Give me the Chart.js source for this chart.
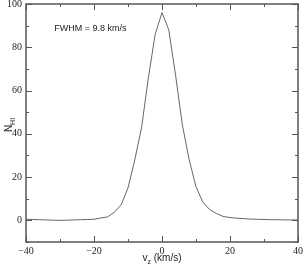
<!DOCTYPE html>
<html>
<head>
<meta charset="utf-8">
<script src="https://cdn.jsdelivr.net/npm/chart.js@4"></script>
<style>
  html, body { margin: 0; padding: 0; background: #fff; }
  #wrap { width: 305px; height: 266px; }
</style>
</head>
<body>
<div id="wrap"><canvas id="myChart"></canvas></div>
<script>
// velocity bins (km/s) and counts
const velocities = [-40, -38, -36, -34, -32, -30, -28, -26, -24, -22, -20, -18, -16, -14, -12, -10, -8, -6, -4, -2,
  0, 2, 4, 6, 8, 10, 12, 14, 16, 18, 20, 22, 24, 26, 28, 30, 32, 34, 36, 38, 40];
const counts = [0.5, 0.4, 0.3, 0.2, 0.1, 0.0, 0.1, 0.2, 0.3, 0.4, 0.5, 1.1, 1.6, 3.8, 7.2, 15, 28, 43, 66, 86,
  96, 88, 67, 44, 28, 15.5, 8.5, 5, 3.2, 1.8, 1.3, 1.0, 0.8, 0.6, 0.5, 0.4, 0.3, 0.3, 0.2, 0.2, 0.2];

const xTicks = [-40, -20, 0, 20, 40];
const yTicks = [0, 20, 40, 60, 80, 100];
const noteText = "FWHM = 9.8 km/s";

const points = velocities.map((v, i) => ({x: v, y: counts[i]}));
const frameColor = '#555';
const sans = '"Liberation Sans", Arial, sans-serif';

// frame, inward ticks, axis titles and the note
const decorations = {
  id: 'decorations',
  afterDraw(chart) {
    const ctx = chart.ctx;
    const {left, right, top, bottom} = chart.chartArea;
    const xs = chart.scales.x, ys = chart.scales.y;

    ctx.save();
    ctx.strokeStyle = frameColor;
    ctx.lineWidth = 1.5;
    ctx.strokeRect(left, top, right - left, bottom - top);

    ctx.lineWidth = 1;
    ctx.beginPath();
    for (let v = -40; v <= 40; v += 10) {
      const px = Math.round(xs.getPixelForValue(v)) + 0.5;
      const len = xTicks.includes(v) ? 6 : 3;
      ctx.moveTo(px, bottom); ctx.lineTo(px, bottom - len);
      ctx.moveTo(px, top); ctx.lineTo(px, top + len);
    }
    for (let v = -10; v <= 100; v += 10) {
      const py = Math.round(ys.getPixelForValue(v)) + 0.5;
      const len = yTicks.includes(v) ? 6 : 3;
      ctx.moveTo(left, py); ctx.lineTo(left + len, py);
      ctx.moveTo(right, py); ctx.lineTo(right - len, py);
    }
    ctx.stroke();
    ctx.restore();

    // x title: v_z (km/s)
    ctx.save();
    ctx.fillStyle = '#222';
    ctx.textAlign = 'left';
    ctx.textBaseline = 'alphabetic';
    ctx.font = '10px ' + sans;
    const wV = ctx.measureText('v').width;
    const rest = ' (km/s)';
    const wR = ctx.measureText(rest).width;
    ctx.font = '7px ' + sans;
    const wZ = ctx.measureText('z').width;
    const cx = (left + right) / 2;
    const sx = cx - (wV + wZ + wR) / 2;
    const by = 261;
    ctx.font = '10px ' + sans;
    ctx.fillText('v', sx, by);
    ctx.fillText(rest, sx + wV + wZ, by);
    ctx.font = '7px ' + sans;
    ctx.fillText('z', sx + wV, by + 3);
    ctx.restore();

    // y title: N_HI, rotated
    ctx.save();
    ctx.fillStyle = '#222';
    ctx.textAlign = 'left';
    ctx.textBaseline = 'alphabetic';
    ctx.translate(12, (top + bottom) / 2 + 2);
    ctx.rotate(-Math.PI / 2);
    ctx.font = '10px ' + sans;
    const wN = ctx.measureText('N').width;
    ctx.font = '7px ' + sans;
    const wHI = ctx.measureText('HI').width;
    const sy = -(wN + wHI) / 2;
    ctx.font = '10px ' + sans;
    ctx.fillText('N', sy, 0);
    ctx.font = '7px ' + sans;
    ctx.fillText('HI', sy + wN, 3);
    ctx.restore();

    // note
    ctx.save();
    ctx.fillStyle = '#222';
    ctx.textAlign = 'left';
    ctx.textBaseline = 'alphabetic';
    ctx.font = '9px ' + sans;
    ctx.fillText(noteText, xs.getPixelForValue(-31.7), ys.getPixelForValue(87.5));
    ctx.restore();
  }
};

new Chart(document.getElementById('myChart'), {
  type: 'line',
  data: {
    datasets: [{
      data: points,
      borderColor: '#666',
      borderWidth: 1,
      pointRadius: 0,
      tension: 0
    }]
  },
  options: {
    responsive: true,
    maintainAspectRatio: false,
    animation: false,
    layout: {padding: {top: 4, right: 7, left: 0, bottom: 0}},
    plugins: {legend: {display: false}, tooltip: {enabled: false}},
    scales: {
      x: {
        type: 'linear',
        min: -40, max: 40,
        grid: {display: false, drawTicks: false},
        border: {display: false},
        afterFit: s => { s.height = 24; s.paddingLeft = 0; s.paddingRight = 0; },
        ticks: {
          stepSize: 10,
          autoSkip: false,
          maxRotation: 0,
          padding: 3,
          color: '#222',
          font: {family: '"Liberation Serif", serif', size: 10},
          callback: v => xTicks.includes(v) ? String(v).replace('-', '\u2212') : ''
        }
      },
      y: {
        min: -10, max: 100,
        grid: {display: false, drawTicks: false},
        border: {display: false},
        afterFit: s => { s.width = 26; s.paddingTop = 0; s.paddingBottom = 0; },
        ticks: {
          stepSize: 10,
          autoSkip: false,
          padding: 4,
          color: '#222',
          font: {family: '"Liberation Serif", serif', size: 10},
          callback: v => yTicks.includes(v) ? String(v) : ''
        }
      }
    }
  },
  plugins: [decorations]
});
</script>
</body>
</html>
